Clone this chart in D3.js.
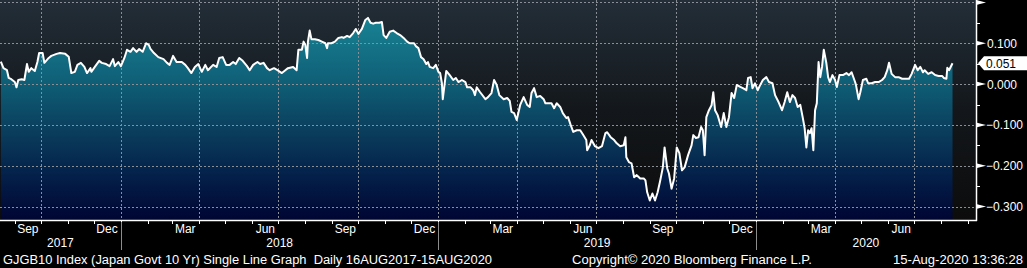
<!DOCTYPE html>
<html lang="en">
<head>
<meta charset="UTF-8">
<title>GJGB10 Index (Japan Govt 10 Yr)</title>
<script src="https://d3js.org/d3.v7.min.js"></script>
<style>
  body {
    margin: 0;
    background: #000;
    overflow: hidden;
  }
  svg {
    display: block;
    font-family: "Liberation Sans", Arial, sans-serif;
  }
</style>
</head>
<body>
<script>
// Daily-ish closes (yield, %)
const dates = [
  "2017-08-16","2017-08-19","2017-08-23","2017-08-25","2017-08-28",
  "2017-09-01","2017-09-03","2017-09-05","2017-09-09","2017-09-12","2017-09-15","2017-09-17","2017-09-20","2017-09-24","2017-09-27","2017-09-29",
  "2017-10-03","2017-10-05","2017-10-10","2017-10-13","2017-10-19","2017-10-23","2017-10-29",
  "2017-11-02","2017-11-05","2017-11-09","2017-11-12","2017-11-16","2017-11-20","2017-11-23","2017-11-27","2017-11-28",
  "2017-12-02","2017-12-07","2017-12-10","2017-12-15","2017-12-19","2017-12-23","2017-12-25","2017-12-29",
  "2018-01-01","2018-01-05","2018-01-08","2018-01-12","2018-01-15","2018-01-19","2018-01-22","2018-01-26","2018-01-30",
  "2018-02-02","2018-02-04","2018-02-08","2018-02-13","2018-02-19","2018-02-23","2018-02-26",
  "2018-03-02","2018-03-06","2018-03-12","2018-03-16","2018-03-19","2018-03-23","2018-03-27","2018-03-31",
  "2018-04-04","2018-04-08","2018-04-11","2018-04-17","2018-04-21","2018-04-24","2018-04-28",
  "2018-05-02","2018-05-06","2018-05-10","2018-05-13","2018-05-17","2018-05-21","2018-05-26","2018-05-29",
  "2018-06-02","2018-06-07","2018-06-10","2018-06-14","2018-06-18","2018-06-21","2018-06-26","2018-06-30",
  "2018-07-05","2018-07-09","2018-07-12","2018-07-18","2018-07-22","2018-07-24","2018-07-28","2018-07-30",
  "2018-08-01","2018-08-03","2018-08-04","2018-08-06","2018-08-08","2018-08-12","2018-08-16","2018-08-20","2018-08-24","2018-08-26","2018-08-27","2018-08-31",
  "2018-09-04","2018-09-08","2018-09-12","2018-09-14","2018-09-18","2018-09-21","2018-09-25","2018-09-28",
  "2018-10-01","2018-10-05","2018-10-09","2018-10-12","2018-10-15","2018-10-18","2018-10-21","2018-10-25","2018-10-28","2018-10-30",
  "2018-11-02","2018-11-06","2018-11-10","2018-11-14","2018-11-18","2018-11-22","2018-11-26","2018-11-29",
  "2018-12-04","2018-12-06","2018-12-09","2018-12-12","2018-12-15","2018-12-18","2018-12-20","2018-12-22","2018-12-26","2018-12-29",
  "2019-01-01","2019-01-03","2019-01-05","2019-01-06","2019-01-09","2019-01-10","2019-01-14","2019-01-18","2019-01-21","2019-01-24","2019-01-28",
  "2019-02-01","2019-02-03","2019-02-07","2019-02-10","2019-02-12","2019-02-14","2019-02-18","2019-02-24","2019-02-27",
  "2019-03-03","2019-03-06","2019-03-09","2019-03-12","2019-03-17","2019-03-21","2019-03-24","2019-03-26","2019-03-29",
  "2019-04-01","2019-04-05","2019-04-09","2019-04-13","2019-04-16","2019-04-18","2019-04-21","2019-04-24","2019-04-28",
  "2019-05-02","2019-05-04","2019-05-07","2019-05-11","2019-05-14","2019-05-17","2019-05-21","2019-05-24","2019-05-28","2019-05-30",
  "2019-06-02","2019-06-05","2019-06-09","2019-06-13","2019-06-16","2019-06-20","2019-06-21","2019-06-24","2019-06-26","2019-06-30",
  "2019-07-04","2019-07-08","2019-07-12","2019-07-14","2019-07-18","2019-07-22","2019-07-25","2019-07-29",
  "2019-08-02","2019-08-04","2019-08-05","2019-08-08","2019-08-11","2019-08-14","2019-08-17","2019-08-21","2019-08-25","2019-08-27","2019-08-29",
  "2019-09-01","2019-09-04","2019-09-07","2019-09-10","2019-09-13","2019-09-16","2019-09-18","2019-09-21","2019-09-23","2019-09-26","2019-09-29",
  "2019-10-02","2019-10-05","2019-10-08","2019-10-11","2019-10-15","2019-10-19","2019-10-21","2019-10-24","2019-10-27","2019-10-30",
  "2019-11-01","2019-11-03","2019-11-05","2019-11-08","2019-11-11","2019-11-13","2019-11-15","2019-11-18","2019-11-22","2019-11-25","2019-11-28",
  "2019-12-01","2019-12-04","2019-12-07","2019-12-10","2019-12-14","2019-12-17","2019-12-21","2019-12-23","2019-12-26","2019-12-28","2019-12-31",
  "2020-01-03","2020-01-06","2020-01-09","2020-01-13","2020-01-16","2020-01-20","2020-01-23","2020-01-27","2020-01-31",
  "2020-02-03","2020-02-06","2020-02-09","2020-02-12","2020-02-15","2020-02-18","2020-02-21","2020-02-24","2020-02-26","2020-02-28",
  "2020-03-01","2020-03-03","2020-03-05","2020-03-07","2020-03-09","2020-03-11","2020-03-13","2020-03-15","2020-03-17","2020-03-19","2020-03-22","2020-03-24","2020-03-26","2020-03-29",
  "2020-04-01","2020-04-03","2020-04-06","2020-04-10","2020-04-14","2020-04-17","2020-04-20","2020-04-24","2020-04-25","2020-04-28","2020-04-30",
  "2020-05-03","2020-05-07","2020-05-09","2020-05-13","2020-05-17","2020-05-21","2020-05-25","2020-05-28","2020-05-31",
  "2020-06-02","2020-06-05","2020-06-09","2020-06-13","2020-06-17","2020-06-20","2020-06-25","2020-06-28",
  "2020-07-02","2020-07-05","2020-07-08","2020-07-11","2020-07-13","2020-07-17","2020-07-21","2020-07-25","2020-07-29",
  "2020-08-02","2020-08-04","2020-08-07","2020-08-08","2020-08-10","2020-08-14"
];

const yields = [
  0.055,0.039,0.034,0.015,0.012,
  0.005,-0.008,0.010,0.012,0.010,0.049,0.030,0.039,0.032,0.054,0.076,
  0.076,0.052,0.064,0.069,0.074,0.076,0.074,
  0.067,0.027,0.030,0.047,0.052,0.042,0.027,0.039,0.030,
  0.042,0.057,0.052,0.049,0.044,0.061,0.044,0.054,
  0.044,0.064,0.084,0.079,0.088,0.079,0.086,0.079,0.100,
  0.096,0.086,0.076,0.066,0.061,0.052,0.047,
  0.069,0.054,0.054,0.047,0.039,0.027,0.042,0.049,
  0.030,0.047,0.034,0.047,0.042,0.064,0.066,
  0.047,0.047,0.054,0.049,0.064,0.057,0.044,0.034,
  0.047,0.054,0.049,0.052,0.039,0.034,0.039,0.034,
  0.027,0.034,0.039,0.042,0.034,0.084,0.084,0.104,
  0.096,0.064,0.104,0.131,0.110,0.110,0.108,0.104,0.100,0.088,0.100,0.100,
  0.104,0.113,0.115,0.113,0.118,0.115,0.125,0.135,
  0.123,0.135,0.157,0.162,0.150,0.148,0.150,0.150,0.152,0.120,
  0.113,0.128,0.131,0.125,0.120,0.113,0.104,0.100,
  0.100,0.093,0.088,0.066,0.061,0.049,0.054,0.042,0.039,0.047,
  0.030,0.027,0.002,-0.037,0.015,0.032,0.022,0.010,0.015,0.005,0.010,
  0.005,-0.008,-0.008,-0.015,-0.027,-0.008,-0.020,-0.037,-0.032,
  -0.022,0.010,-0.002,-0.027,-0.037,-0.034,-0.041,-0.068,-0.071,
  -0.088,-0.051,-0.032,-0.051,-0.056,-0.022,-0.010,-0.032,-0.029,
  -0.037,-0.047,-0.047,-0.047,-0.059,-0.047,-0.056,-0.071,-0.083,-0.081,
  -0.100,-0.117,-0.113,-0.113,-0.123,-0.137,-0.162,-0.150,-0.137,-0.152,
  -0.157,-0.152,-0.120,-0.118,-0.130,-0.137,-0.145,-0.152,
  -0.150,-0.130,-0.179,-0.191,-0.194,-0.228,-0.223,-0.231,-0.231,-0.236,-0.265,
  -0.285,-0.268,-0.285,-0.265,-0.236,-0.204,-0.155,-0.206,-0.219,-0.256,-0.231,
  -0.155,-0.169,-0.211,-0.204,-0.174,-0.150,-0.125,-0.132,-0.130,-0.105,
  -0.113,-0.174,-0.081,-0.064,-0.052,-0.020,-0.064,-0.076,-0.105,-0.071,-0.105,
  -0.081,-0.022,-0.034,-0.002,-0.007,-0.010,-0.015,0.015,0.017,-0.010,0.002,
  -0.015,-0.002,0.010,0.017,0.005,0.002,-0.027,-0.044,-0.064,
  -0.044,-0.020,-0.044,-0.027,-0.034,-0.056,-0.051,-0.084,-0.108,-0.155,
  -0.113,-0.120,-0.108,-0.162,-0.064,-0.047,0.054,0.017,0.042,0.084,0.051,0.017,0.005,0.022,
  0.010,-0.007,0.022,0.022,0.027,0.022,0.029,0.005,-0.002,-0.037,-0.020,
  0.010,0.013,0.002,0.002,0.005,0.005,0.010,0.017,0.034,
  0.052,0.025,0.017,0.017,0.013,0.013,0.013,0.025,
  0.047,0.034,0.042,0.029,0.034,0.025,0.029,0.022,0.020,
  0.020,0.015,0.013,0.040,0.034,0.051
];

const yMajor = [-0.3, -0.2, -0.1, 0.0, 0.1, 0.2];
const yMinor = [-0.25, -0.15, -0.05, 0.05, 0.15];
const yLabels = [-0.3, -0.2, -0.1, 0.0, 0.1];
const years = [2017, 2018, 2019, 2020];
const lastValue = 0.051;
const footerLeft = "GJGB10 Index (Japan Govt 10 Yr) Single Line Graph  Daily 16AUG2017-15AUG2020";
const footerMid = "Copyright\u00A9 2020 Bloomberg Finance L.P.";
const footerRight = "15-Aug-2020 13:36:28";

const width = 1027;
const height = 268;
const plotW = 976;   // right value axis sits here
const plotH = 220;   // time axis sits here

const parse = d3.timeParse("%Y-%m-%d");
const data = dates.map((d, i) => ({ date: parse(d), value: yields[i] }));

const x = d3.scaleTime()
  .domain([new Date(2017, 7, 15), new Date(2020, 8, 10)])
  .range([0, plotW]);

const y = d3.scaleLinear()
  .domain([-0.3, 0.2])
  .range([206.6, 2.4]);

const svg = d3.select("body").append("svg")
  .attr("width", width)
  .attr("height", height);

// gradients: plot background and area fill
const defs = svg.append("defs");
const bgGrad = defs.append("linearGradient")
  .attr("id", "bg")
  .attr("gradientUnits", "userSpaceOnUse")
  .attr("x1", 0).attr("y1", 0).attr("x2", 0).attr("y2", plotH);
bgGrad.append("stop").attr("offset", "0%").attr("stop-color", "#232e38");
bgGrad.append("stop").attr("offset", "50%").attr("stop-color", "#13171b");
bgGrad.append("stop").attr("offset", "100%").attr("stop-color", "#0c0c0c");

const areaGrad = defs.append("linearGradient")
  .attr("id", "fill")
  .attr("gradientUnits", "userSpaceOnUse")
  .attr("x1", 0).attr("y1", 0).attr("x2", 0).attr("y2", plotH);
areaGrad.append("stop").attr("offset", "0%").attr("stop-color", "#1b8d9c");
areaGrad.append("stop").attr("offset", "38%").attr("stop-color", "#0f5e76");
areaGrad.append("stop").attr("offset", "60%").attr("stop-color", "#0a3d5c");
areaGrad.append("stop").attr("offset", "80%").attr("stop-color", "#04204a");
areaGrad.append("stop").attr("offset", "100%").attr("stop-color", "#000532");

svg.append("rect")
  .attr("width", width).attr("height", height)
  .attr("fill", "#000");

svg.append("rect")
  .attr("width", plotW).attr("height", plotH)
  .attr("fill", "url(#bg)");

// area + line
const area = d3.area()
  .x(d => x(d.date))
  .y0(plotH)
  .y1(d => y(d.value));

svg.append("path")
  .datum(data)
  .attr("fill", "url(#fill)")
  .attr("d", area);

// dashed grid on top of area
const grid = svg.append("g")
  .attr("stroke", "#8a8f96")
  .attr("stroke-width", 1)
  .attr("stroke-dasharray", "2,2");

grid.selectAll("line.h")
  .data(yMajor)
  .join("line")
  .attr("class", "h")
  .attr("x1", 0).attr("x2", plotW)
  .attr("y1", d => Math.round(y(d)) + 0.5)
  .attr("y2", d => Math.round(y(d)) + 0.5);

// calendar quarter starts (Oct, Jan, Apr, Jul)
const quarters = d3.timeMonth.range(new Date(2017, 9, 1), x.domain()[1], 3);
grid.selectAll("line.v")
  .data(quarters)
  .join("line")
  .attr("class", "v")
  .attr("x1", d => Math.round(x(d)) + 0.5)
  .attr("x2", d => Math.round(x(d)) + 0.5)
  .attr("y1", 0).attr("y2", plotH);

svg.append("path")
  .datum(data)
  .attr("fill", "none")
  .attr("stroke", "#fff")
  .attr("stroke-width", 2)
  .attr("stroke-linejoin", "round")
  .attr("d", d3.line().x(d => x(d.date)).y(d => y(d.value)));

// time axis
const months = d3.timeMonth.range(new Date(2017, 8, 1), x.domain()[1]);
svg.append("line")
  .attr("x1", 0).attr("x2", plotW + 1)
  .attr("y1", plotH + 0.5).attr("y2", plotH + 0.5)
  .attr("stroke", "#fff").attr("stroke-width", 1.5);

svg.selectAll("line.mtick")
  .data(months)
  .join("line")
  .attr("class", "mtick")
  .attr("x1", d => Math.round(x(d)) + 0.5)
  .attr("x2", d => Math.round(x(d)) + 0.5)
  .attr("y1", plotH).attr("y2", plotH + 4)
  .attr("stroke", "#fff");

// Sep, Dec, Mar, Jun labels centred on the middle of the month
const labelMonths = d3.timeMonth.range(new Date(2017, 8, 1), new Date(2020, 7, 1), 3);
svg.selectAll("text.month")
  .data(labelMonths)
  .join("text")
  .attr("class", "month")
  .attr("x", d => x(d3.timeDay.offset(d, 15)))
  .attr("y", 233)
  .attr("text-anchor", "middle")
  .attr("fill", "#fff")
  .attr("font-size", 12)
  .text(d3.timeFormat("%b"));

// year labels and separators
svg.selectAll("line.ysep")
  .data(years.slice(1))
  .join("line")
  .attr("class", "ysep")
  .attr("x1", d => Math.round(x(new Date(d, 0, 1))) + 0.5)
  .attr("x2", d => Math.round(x(new Date(d, 0, 1))) + 0.5)
  .attr("y1", plotH + 2).attr("y2", 250)
  .attr("stroke", "#8c8c8c");

svg.selectAll("text.year")
  .data(years)
  .join("text")
  .attr("class", "year")
  .attr("x", d => {
    const a = Math.max(0, x(new Date(d, 0, 1)));
    const b = Math.min(plotW, x(new Date(d + 1, 0, 1)));
    return (a + b) / 2;
  })
  .attr("y", 247)
  .attr("text-anchor", "middle")
  .attr("fill", "#fff")
  .attr("font-size", 12)
  .text(d => d);

// value axis on the right
svg.append("line")
  .attr("x1", plotW + 0.5).attr("x2", plotW + 0.5)
  .attr("y1", 0).attr("y2", plotH + 1)
  .attr("stroke", "#fff").attr("stroke-width", 1.5);

svg.selectAll("path.ytick")
  .data(yMajor)
  .join("path")
  .attr("class", "ytick")
  .attr("d", d => {
    const yy = y(d);
    return `M${plotW},${yy - 2.5}L${plotW + 6},${yy - 1}L${plotW + 10},${yy}L${plotW + 6},${yy + 1}L${plotW},${yy + 2.5}Z`;
  })
  .attr("fill", "#fff");

svg.selectAll("line.yminor")
  .data(yMinor)
  .join("line")
  .attr("class", "yminor")
  .attr("x1", plotW).attr("x2", plotW + 4)
  .attr("y1", d => Math.round(y(d)) + 0.5)
  .attr("y2", d => Math.round(y(d)) + 0.5)
  .attr("stroke", "#fff");

svg.selectAll("text.ylab")
  .data(yLabels)
  .join("text")
  .attr("class", "ylab")
  .attr("x", d => d < 0 ? 986 : 987)
  .attr("y", d => y(d) + 4.5)
  .attr("fill", "#fff")
  .attr("font-size", 12)
  .text(d3.format(".3f"));

// last value tag
const ly = y(lastValue);
svg.append("path")
  .attr("d", `M${plotW + 2},${ly}L${plotW + 8},${ly - 7}H${width}V${ly + 7}H${plotW + 8}Z`)
  .attr("fill", "#fff");
svg.append("text")
  .attr("x", 986)
  .attr("y", ly + 4.5)
  .attr("fill", "#000")
  .attr("font-size", 12)
  .text(d3.format(".3f")(lastValue));

// footer
svg.append("text")
  .attr("x", 3).attr("y", 264)
  .attr("fill", "#fff").attr("font-size", 12)
  .attr("textLength", 489).attr("lengthAdjust", "spacingAndGlyphs")
  .style("white-space", "pre")
  .text(footerLeft);

svg.append("text")
  .attr("x", 572).attr("y", 264)
  .attr("fill", "#fff").attr("font-size", 12)
  .attr("textLength", 240).attr("lengthAdjust", "spacingAndGlyphs")
  .text(footerMid);

svg.append("text")
  .attr("x", 893).attr("y", 264)
  .attr("fill", "#fff").attr("font-size", 12)
  .attr("textLength", 130).attr("lengthAdjust", "spacingAndGlyphs")
  .text(footerRight);
</script>
</body>
</html>
